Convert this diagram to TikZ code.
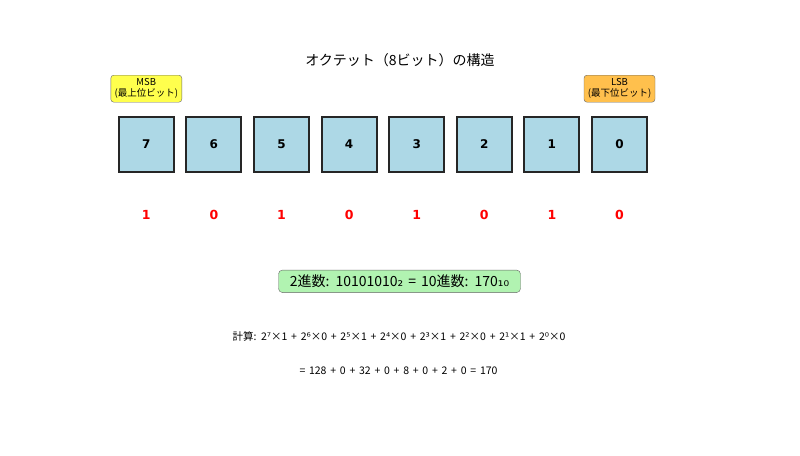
\documentclass[tikz,border=0pt]{standalone}
\usepackage{fontspec}
\setmainfont{Noto Sans CJK JP}
\newfontfamily\digitfont{DejaVu Sans}
\newfontfamily\calcfont[WordSpace=1.7]{Noto Sans CJK JP}
\newfontfamily\resultfont[WordSpace=1.6]{Noto Sans CJK JP}
\usetikzlibrary{positioning}

\definecolor{bitblue}{RGB}{173,216,230}
\definecolor{msbyellow}{RGB}{255,255,77}
\definecolor{lsborange}{RGB}{255,192,77}
\definecolor{resultgreen}{RGB}{177,243,177}

\begin{document}
\begin{tikzpicture}[
  x=1pt, y=-1pt,
  bitbox/.style = {draw=black!85, line width=2pt, fill=bitblue, minimum size=55pt, inner sep=0pt,
                   font=\digitfont\bfseries\fontsize{12}{14}\selectfont},
  bitval/.style = {text=red, font=\digitfont\bfseries\fontsize{12.5}{14}\selectfont},
  tag/.style = {draw=black!60, rounded corners=3pt, align=center, inner sep=2pt,
                minimum width=71pt, minimum height=27pt, font=\fontsize{9.5}{11}\selectfont},
  result/.style = {draw=black!60, rounded corners=4pt, fill=resultgreen, inner sep=4pt,
                   minimum width=242pt, minimum height=22.5pt, font=\resultfont\fontsize{14}{16}\selectfont},
  calcline/.style = {font=\calcfont\fontsize{10.5}{12}\selectfont}
]

% Canvas
\useasboundingbox (0,0) rectangle (800,455);

% Parameters
\def\pitch{67.6}
\def\boxrow{144.5}
\def\valrow{215}

% Title
\node[font=\fontsize{14}{16}\selectfont] (title) at (400,60) {オクテット（8ビット）の構造};

% Bit positions
\node[bitbox] (b7) at ({146.3+0*\pitch},\boxrow) {7};
\node[bitbox] (b6) at ({146.3+1*\pitch},\boxrow) {6};
\node[bitbox] (b5) at ({146.3+2*\pitch},\boxrow) {5};
\node[bitbox] (b4) at ({146.3+3*\pitch},\boxrow) {4};
\node[bitbox] (b3) at ({146.3+4*\pitch},\boxrow) {3};
\node[bitbox] (b2) at ({146.3+5*\pitch},\boxrow) {2};
\node[bitbox] (b1) at ({146.3+6*\pitch},\boxrow) {1};
\node[bitbox] (b0) at ({146.3+7*\pitch},\boxrow) {0};

% Bit values
\node[bitval] (v7) at (b7 |- 0,\valrow) {1};
\node[bitval] (v6) at (b6 |- 0,\valrow) {0};
\node[bitval] (v5) at (b5 |- 0,\valrow) {1};
\node[bitval] (v4) at (b4 |- 0,\valrow) {0};
\node[bitval] (v3) at (b3 |- 0,\valrow) {1};
\node[bitval] (v2) at (b2 |- 0,\valrow) {0};
\node[bitval] (v1) at (b1 |- 0,\valrow) {1};
\node[bitval] (v0) at (b0 |- 0,\valrow) {0};

% MSB / LSB tags
\node[tag, fill=msbyellow] (msb) at (b7 |- 0,88.7) {MSB\\(最上位ビット)};
\node[tag, fill=lsborange] (lsb) at (b0 |- 0,88.7) {LSB\\(最下位ビット)};

% Conversion result
\node[result] (conv) at (399.5,281.3) {2進数: 10101010{\digitfont ₂} = 10進数: 170{\digitfont ₁₀}};

% Calculation
\node[calcline] (calc) at (399,336)
  {計算: 2{\digitfont ⁷}×1 + 2{\digitfont ⁶}×0 + 2{\digitfont ⁵}×1 + 2{\digitfont ⁴}×0 + 2{\digitfont ³}×1 + 2{\digitfont ²}×0 + 2{\digitfont ¹}×1 + 2{\digitfont ⁰}×0};
\node[calcline] (sum) at (398.5,371) {= 128 + 0 + 32 + 0 + 8 + 0 + 2 + 0 = 170};

\end{tikzpicture}
\end{document}
